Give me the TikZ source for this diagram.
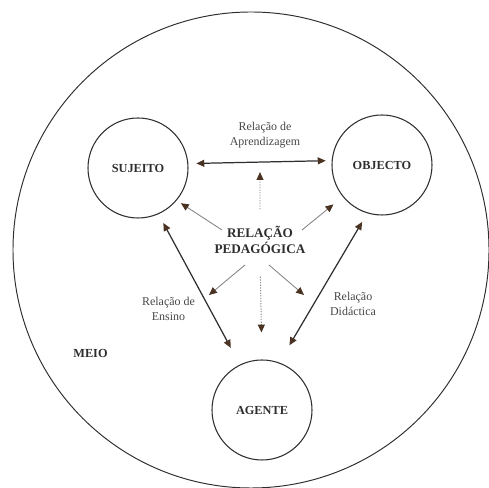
\documentclass[tikz,border=0pt]{standalone}
\usepackage{fontspec}
\setmainfont{Liberation Serif}
\usetikzlibrary{arrows.meta}
\definecolor{tipbrown}{HTML}{4A3322}
\definecolor{inkgrey}{HTML}{2E2E2E}
\definecolor{labelgrey}{HTML}{474747}
\definecolor{softgrey}{HTML}{858585}
\newcommand{\partyfont}{\fontsize{7}{8}\selectfont\bfseries}
\newcommand{\relfont}{\fontsize{6.8}{8.5}\selectfont}

\begin{document}
\begin{tikzpicture}[
    >={Triangle[length=4.5pt, width=4pt, color=tipbrown]},
    party/.style={draw=inkgrey, line width=0.6pt, circle, minimum size=2cm, inner sep=0pt, font=\partyfont, text=inkgrey},
    relname/.style={align=center, font=\relfont, text=labelgrey},
    mainrel/.style={<->, line width=0.7pt, draw=inkgrey},
    pedrel/.style={->, line width=0.5pt, draw=softgrey},
    pedrelv/.style={->, line width=0.55pt, draw=softgrey, dash pattern=on 0.7pt off 0.8pt}
  ]
      \useasboundingbox (0,0) rectangle (9.78,9.76);

      \node[draw=inkgrey, line width=0.55pt, circle, minimum size=9.52cm] (ENV) at (5.02,4.76) {};
      \node[font=\partyfont, text=inkgrey] (MEIO) at (1.81,2.70) {MEIO};

      \node[party] (SUJ) at (2.76,6.40) {SUJEITO};
      \node[party] (OBJ) at (7.64,6.46) {OBJECTO};
      \node[party] (AGT) at (5.24,1.56) {AGENTE};

      \node[align=center, inner sep=1pt, font=\fontsize{7.5}{9}\selectfont\bfseries, text=inkgrey] (RP) at (5.20,4.96) {RELAÇÃO\\PEDAGÓGICA};

      \node[relname] (RA) at (5.30,7.06) {Relação de\\Aprendizagem};
      \node[relname] (RE) at (3.37,3.59) {Relação de\\Ensino};
      \node[relname] (RD) at (7.06,3.69) {Relação\\Didáctica};

      \draw[mainrel, shorten <=0.16cm, shorten >=0.12cm] (node cs:name=SUJ, angle=5) -- coordinate (RAmid) (node cs:name=OBJ, angle=175);
      \draw[mainrel, shorten <=0.2cm, shorten >=0.38cm] (node cs:name=SUJ, angle=-66) -- (node cs:name=AGT, angle=116);
      \draw[mainrel, shorten <=0.2cm, shorten >=0.4cm] (node cs:name=OBJ, angle=-107) -- (node cs:name=AGT, angle=70);

      \draw[pedrelv, shorten <=0.3cm, shorten >=0.2cm] (node cs:name=RP, anchor=north) -- (RAmid);
      \draw[pedrelv, shorten <=0.42cm, shorten >=0.54cm] (node cs:name=RP, anchor=south) -- (node cs:name=AGT, anchor=north);

      \draw[pedrel, shorten >=0.1cm] ([shift={(-0.76,0.20)}]RP.center) -- (node cs:name=SUJ, angle=-40);
      \draw[pedrel, shorten >=0.24cm] ([shift={(0.84,0.20)}]RP.center) -- (node cs:name=OBJ, angle=-141);
      \draw[pedrel] ([shift={(-0.30,-0.50)}]RP.center) -- ([shift={(0.81,0.27)}]RE.center);
      \draw[pedrel] ([shift={(0.18,-0.50)}]RP.center) -- ([shift={(-0.98,0.17)}]RD.center);
    \end{tikzpicture}
\end{document}
